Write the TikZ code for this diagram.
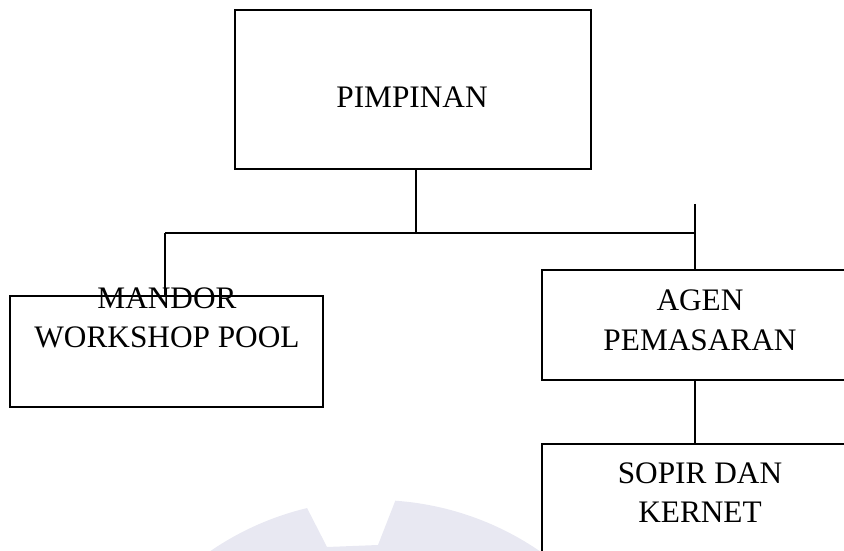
\documentclass[tikz,border=0pt]{standalone}
\usepackage{fontspec}
\setmainfont{Liberation Serif}
\definecolor{wmcol}{RGB}{232,232,242}
\begin{document}
\begin{tikzpicture}[x=1pt,y=1pt,
  box/.style={draw=black,line width=2.5pt,fill=none,inner sep=0pt,rectangle},
  conn/.style={draw=black,line width=1.3pt},
  lbl/.style={anchor=base,inner sep=0pt,font=\fontsize{31.3}{40}\selectfont}]
\useasboundingbox (0,0) rectangle (844,550);
\clip (0,0) rectangle (844,550);
% watermark
\fill[wmcol] ([shift={(130:291)}]375,-241) arc[start angle=130,end angle=103.5,radius=291]
  -- (327,3) -- (378,5) -- ([shift={(86:291)}]375,-241) arc[start angle=86,end angle=50,radius=291] -- cycle;
% boxes
\node[box,minimum width=356,minimum height=159] (pim) at (413,460.5) {};
\node[box,minimum width=313,minimum height=111] (mandor) at (166.5,198.5) {};
\node[box,minimum width=316,minimum height=110] (agen) at (700,225) {};
\node[box,minimum width=316,minimum height=130] (sopir) at (700,41) {};
% labels
\node[lbl] (tpim) at (412,442) {PIMPINAN};
\node[lbl] (tman1) at (167,242) {MANDOR};
\node[lbl] (tman2) at (167,203) {WORKSHOP POOL};
\node[lbl] (tag1) at (700,240) {AGEN};
\node[lbl] (tag2) at (700,200) {PEMASARAN};
\node[lbl] (tsop1) at (700,66.5) {SOPIR DAN};
\node[lbl] (tsop2) at (700,27.5) {KERNET};
% connectors
\coordinate (hubL) at (165,317);
\coordinate (hubM) at (416,317);
\coordinate (hubR) at (695,317);
\coordinate (topR) at (695,346);
\draw[conn] (hubM |- pim.south) -- (hubM);
\draw[conn] (hubL) -- (hubR);
\draw[conn] (hubL) -- (hubL |- mandor.north);
\draw[conn] (topR) -- (topR |- agen.north);
\draw[conn] (topR |- agen.south) -- (topR |- sopir.north);
\end{tikzpicture}
\end{document}
